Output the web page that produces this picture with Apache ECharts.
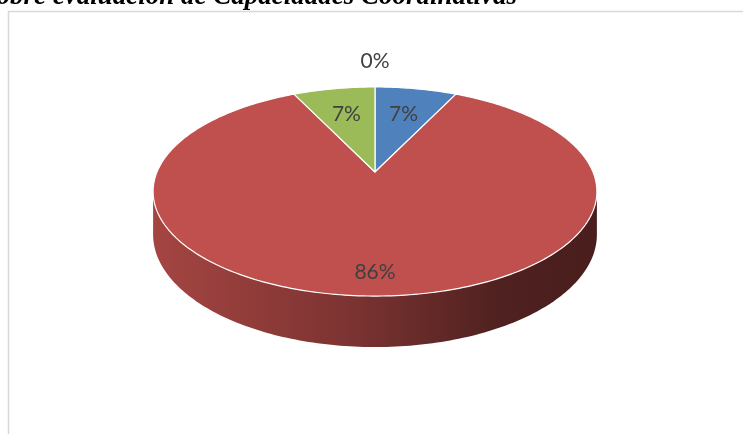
<!DOCTYPE html>
<html>
<head>
<meta charset="utf-8">
<script src="https://cdn.jsdelivr.net/npm/echarts@6/dist/echarts.min.js"></script>
<style>
  html, body { margin: 0; padding: 0; background: #ffffff; }
  #chart { width: 743px; height: 434px; }
</style>
</head>
<body>
<div id="chart"></div>
<script>
// Survey results: number of answers per level
const categories = ['Nivel 1', 'Nivel 2', 'Nivel 3', 'Nivel 4'];
const counts = [1, 12, 1, 0];
const sliceColors = ['#4f81bd', '#c0504d', '#9bbb59', '#8064a2'];
const titleText = 'sobre evaluación de Capacidades Coordinativas';

// Tilted disc seen in perspective: centre, half-width, half-height, perspective factor, wall height
const disc = { cx: 375, cy: 172, w: 218, a: 100.9, k: 0.1867, depth: 41.5 };

const total = counts.reduce((s, v) => s + v, 0);
const starts = [];
counts.reduce((acc, v, i) => { starts[i] = acc; return acc + v; }, 0);

// angle measured clockwise from the back of the disc
function project(theta, r) {
  const s = Math.sin(theta), c = Math.cos(theta);
  const q = 1 + disc.k * r * c;
  return [disc.cx + disc.w * r * s / q, disc.cy - disc.a * r * c / q];
}
function wallHeight(theta) {
  return disc.depth / (1 + disc.k * Math.cos(theta));
}
function shade(hex, f) {
  const n = parseInt(hex.slice(1), 16);
  const r = Math.round(((n >> 16) & 255) * f);
  const g = Math.round(((n >> 8) & 255) * f);
  const b = Math.round((n & 255) * f);
  return 'rgb(' + r + ',' + g + ',' + b + ')';
}
function arcPoints(t0, t1, r) {
  const pts = [];
  const steps = Math.max(2, Math.ceil(Math.abs(t1 - t0) / (Math.PI / 180)));
  for (let j = 0; j <= steps; j++) {
    pts.push(project(t0 + (t1 - t0) * j / steps, r));
  }
  return pts;
}

// visible part of the outer wall (between the two silhouette points)
const wallFrom = Math.acos(-disc.k);
const wallTo = 2 * Math.PI - wallFrom;

function renderItem(params, api) {
  const i = params.dataIndex;
  const v = api.value(0);
  const share = v / total;
  const t0 = starts[i] / total * 2 * Math.PI;
  const t1 = t0 + share * 2 * Math.PI;
  const color = sliceColors[i % sliceColors.length];
  const children = [];

  if (v > 0) {
    // outer wall
    const a0 = Math.max(t0, wallFrom), a1 = Math.min(t1, wallTo);
    if (a1 > a0) {
      const top = arcPoints(a0, a1, 1);
      const bottom = top.map((p, j) => {
        const th = a0 + (a1 - a0) * j / (top.length - 1);
        return [p[0], p[1] + wallHeight(th)];
      }).reverse();
      children.push({
        type: 'polygon',
        z2: 1,
        shape: { points: top.concat(bottom) },
        style: {
          fill: {
            type: 'linear', global: true,
            x: disc.cx - disc.w * 1.02, y: 0, x2: disc.cx + disc.w * 1.02, y2: 0,
            colorStops: [
              { offset: 0, color: shade(color, 0.86) },
              { offset: 0.45, color: shade(color, 0.64) },
              { offset: 0.78, color: shade(color, 0.41) },
              { offset: 1, color: shade(color, 0.38) }
            ]
          },
          stroke: null
        }
      });
    }
    // top face
    const face = [project(0, 0)].concat(arcPoints(t0, t1, 1));
    children.push({
      type: 'polygon',
      z2: 2,
      shape: { points: face },
      style: { fill: color, stroke: '#ffffff', lineWidth: 1.2, lineJoin: 'round' }
    });
  }

  // percentage label
  const mid = (t0 + t1) / 2;
  const lr = v === 0 ? 1.38 : (share > 0.5 ? 0.84 : 0.66);
  const lp = project(mid, lr);
  children.push({
    type: 'text',
    z2: 3,
    x: lp[0], y: lp[1],
    style: {
      text: Math.round(share * 100) + '%',
      font: '21px Lato',
      fill: '#404040',
      align: 'center',
      verticalAlign: 'middle'
    }
  });

  return { type: 'group', children: children };
}

const chart = echarts.init(document.getElementById('chart'), null, { renderer: 'canvas' });
chart.setOption({
  backgroundColor: '#ffffff',
  animation: false,
  graphic: [
    {
      type: 'rect', silent: true, z: 0,
      shape: { x: 8.5, y: 11.5, width: 900, height: 600 },
      style: { fill: 'none', stroke: '#d9d9d9', lineWidth: 1.5 }
    },
    {
      type: 'text', silent: true, z: 10,
      x: 517, y: 11,
      style: {
        text: titleText,
        font: 'italic bold 27px "Liberation Serif"',
        fill: '#000000',
        align: 'right',
        verticalAlign: 'bottom'
      }
    }
  ],
  series: [{
    type: 'custom',
    coordinateSystem: 'none',
    renderItem: renderItem,
    data: counts.map((v, i) => ({ name: categories[i], value: [v] }))
  }]
});
</script>
</body>
</html>
